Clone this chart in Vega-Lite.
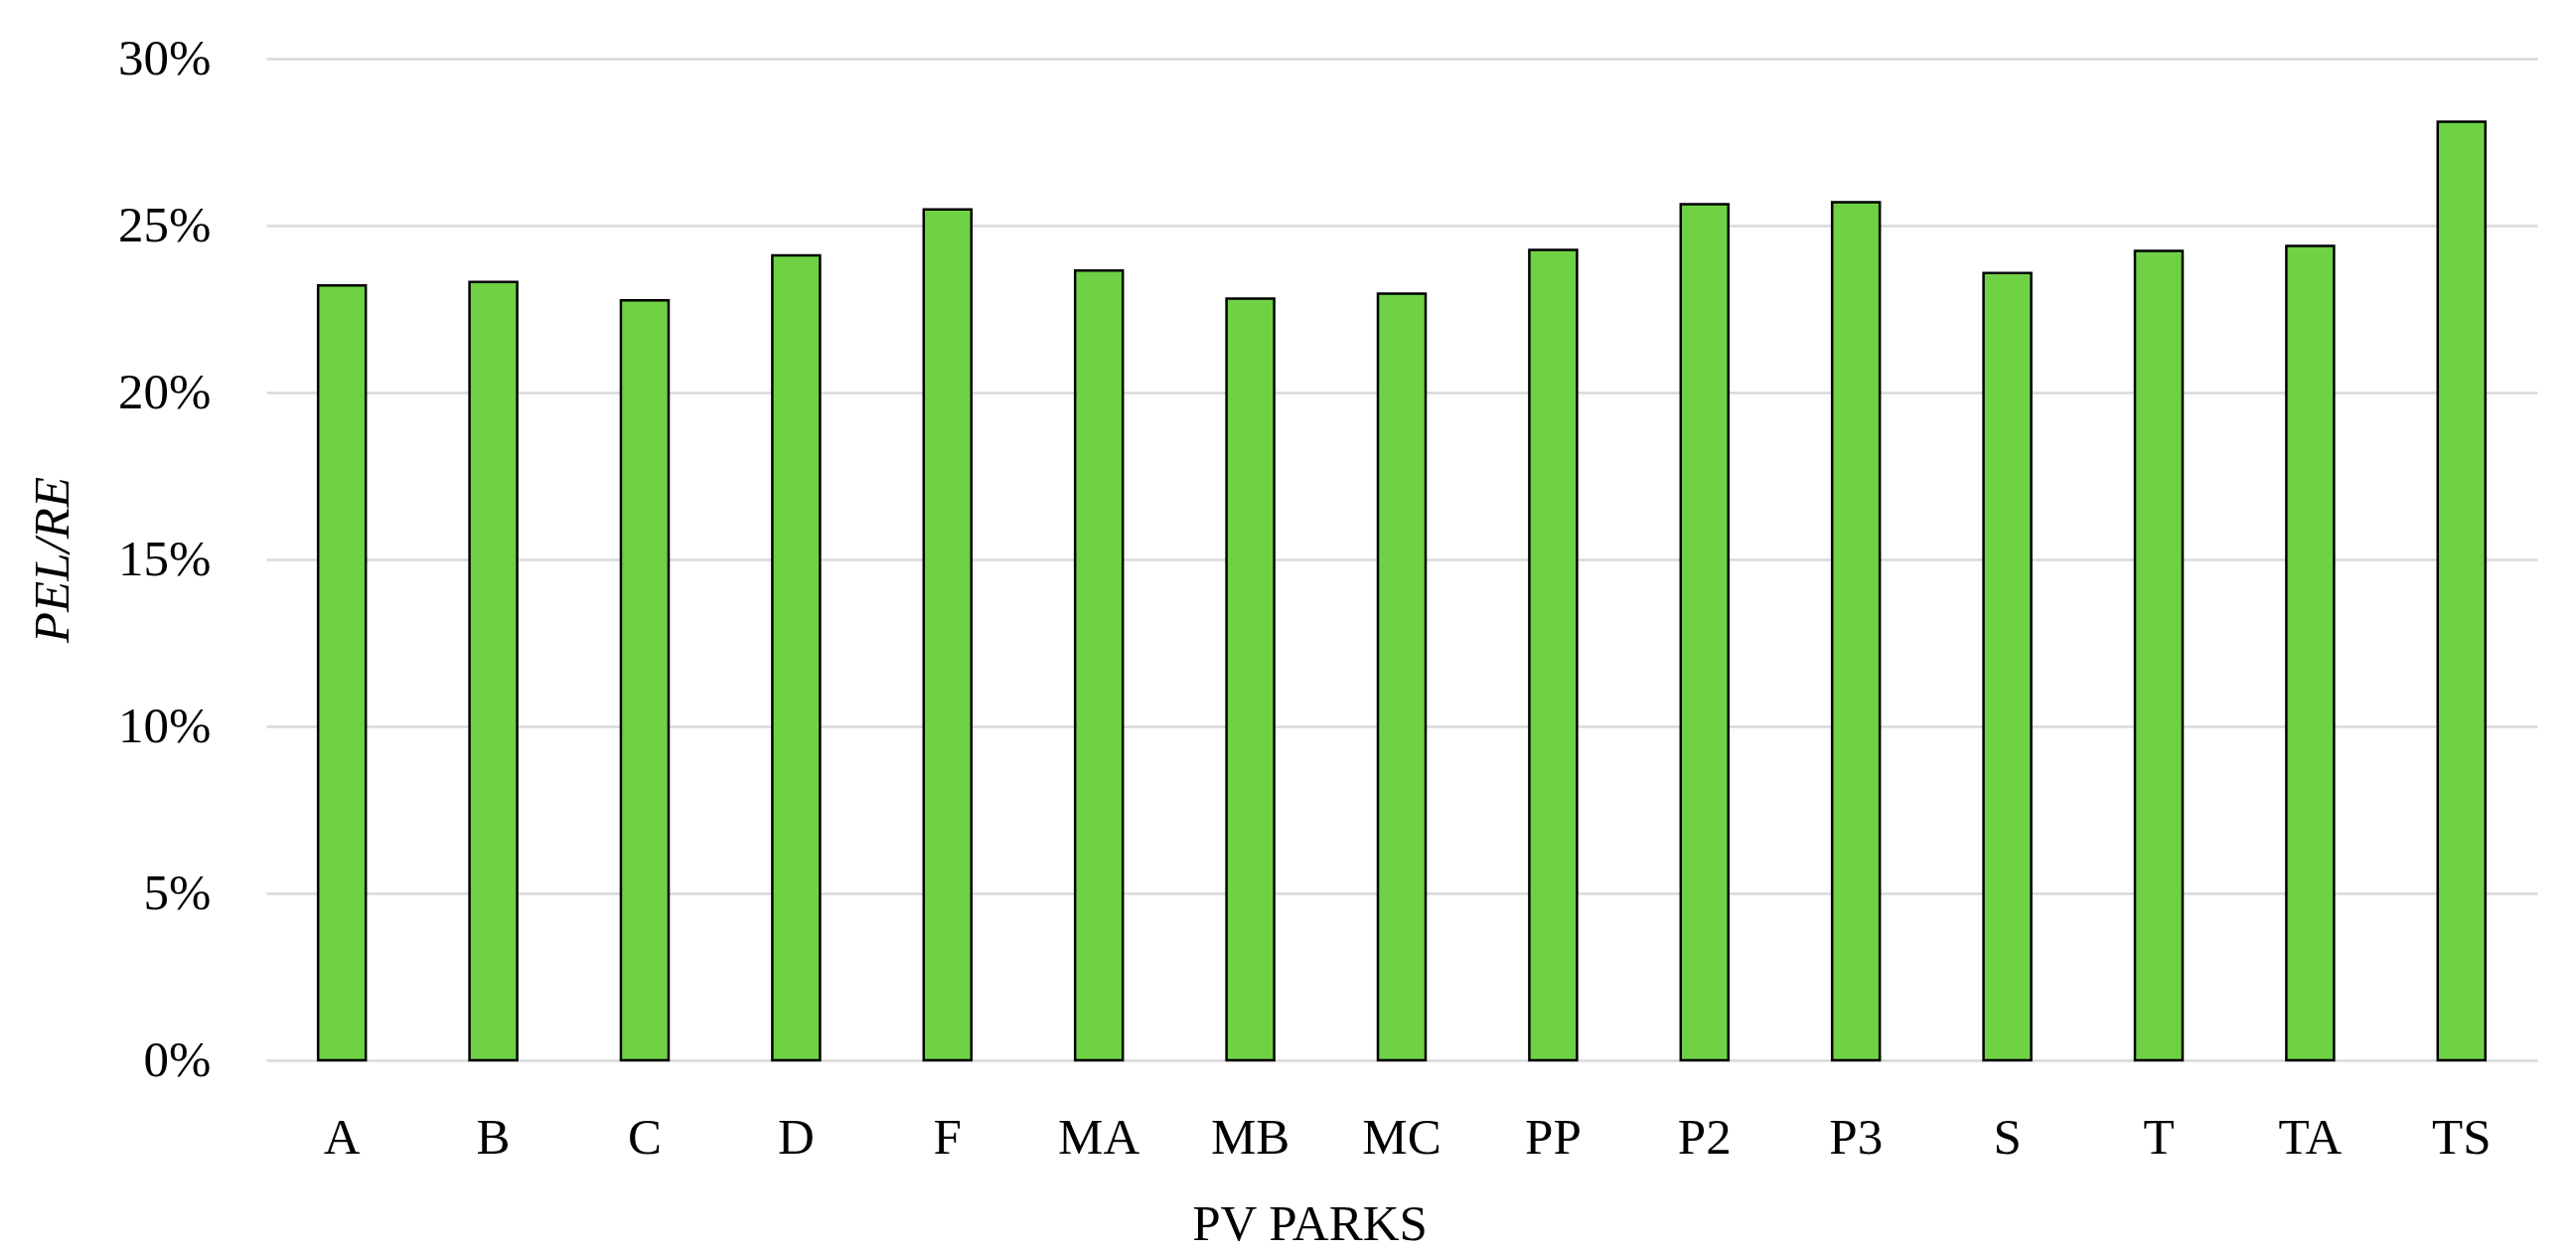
{
  "$schema": "https://vega.github.io/schema/vega-lite/v6.json",
  "width": 2286,
  "height": 1008,
  "autosize": {"type": "none"},
  "padding": {"left": 268, "top": 59, "right": 39, "bottom": 199},
  "background": "white",
  "data": {
    "values": [
      {"park": "A", "ratio": 0.2321},
      {"park": "B", "ratio": 0.2331},
      {"park": "C", "ratio": 0.2276},
      {"park": "D", "ratio": 0.2411},
      {"park": "F", "ratio": 0.2548},
      {"park": "MA", "ratio": 0.2365},
      {"park": "MB", "ratio": 0.2281},
      {"park": "MC", "ratio": 0.2296},
      {"park": "PP", "ratio": 0.2427},
      {"park": "P2", "ratio": 0.2564},
      {"park": "P3", "ratio": 0.2570},
      {"park": "S", "ratio": 0.2358},
      {"park": "T", "ratio": 0.2424},
      {"park": "TA", "ratio": 0.2439},
      {"park": "TS", "ratio": 0.2811}
    ]
  },
  "config": {
    "view": {"stroke": null},
    "font": "Liberation Serif"
  },
  "mark": {"type": "bar", "fill": "#6ED244", "stroke": "#000000", "strokeWidth": 2.5},
  "encoding": {
    "x": {
      "field": "park",
      "type": "nominal",
      "sort": null,
      "scale": {"paddingInner": 0.685, "paddingOuter": 0.3425},
      "axis": {
        "title": "PV PARKS",
        "labelAngle": 0,
        "labelFont": "Liberation Serif",
        "labelFontSize": 51,
        "labelColor": "#000000",
        "labelPadding": 53,
        "ticks": false,
        "tickSize": 0,
        "domain": false,
        "grid": false,
        "titleFont": "Liberation Serif",
        "titleFontSize": 51,
        "titleFontWeight": "normal",
        "titleColor": "#000000",
        "titleBaseline": "alphabetic",
        "titleAlign": "center",
        "titleAnchor": null,
        "titleX": 1050,
        "titleY": 180
      }
    },
    "y": {
      "field": "ratio",
      "type": "quantitative",
      "scale": {"domain": [0, 0.3], "nice": false},
      "axis": {
        "title": "PEL/RE",
        "values": [0, 0.05, 0.1, 0.15, 0.2, 0.25, 0.3],
        "format": ".0%",
        "labelFont": "Liberation Serif",
        "labelFontSize": 51,
        "labelColor": "#000000",
        "labelPadding": 56,
        "ticks": false,
        "tickSize": 0,
        "domain": false,
        "grid": true,
        "gridColor": "#d9d9d9",
        "gridWidth": 2.5,
        "titleFont": "Liberation Serif",
        "titleFontSize": 51,
        "titleFontStyle": "italic",
        "titleFontWeight": "normal",
        "titleColor": "#000000",
        "titleAngle": -90,
        "titleBaseline": "alphabetic",
        "titleAlign": "center",
        "titleAnchor": null,
        "titleX": -200,
        "titleY": 504
      }
    }
  }
}
